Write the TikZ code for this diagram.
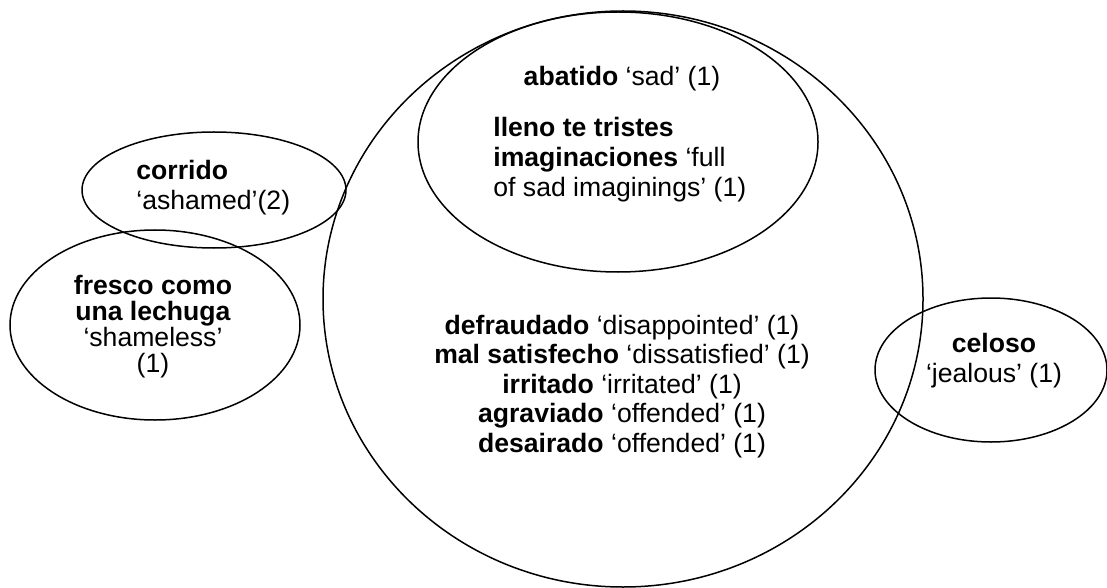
\documentclass[tikz,border=0pt]{standalone}
\usepackage{fontspec}
\setmainfont{Liberation Sans}

\begin{document}
\begin{tikzpicture}[
    x=0.5pt, y=-0.5pt,
    set/.style={draw=black, line width=0.75pt},
    gloss/.style={font={\fontsize{13.3}{15}\selectfont}, inner sep=0pt}
]

%% ================================================================
%% Rahmen (Bildgroesse in Pixeln, y nach unten)
%% ================================================================
\useasboundingbox (0,0) rectangle (1107,588);

%% ================================================================
%% MENGEN (Ellipsen)
%% ================================================================
\draw[set] (623,299) ellipse [x radius=300, y radius=288];   % grosser Kreis
\draw[set] (618,142) ellipse [x radius=200, y radius=130];   % abatido
\draw[set] (214,190) ellipse [x radius=132, y radius=58];    % corrido
\draw[set] (155,325) ellipse [x radius=145, y radius=95];    % fresco
\draw[set] (991,370) ellipse [x radius=116, y radius=72];    % celoso

%% ================================================================
%% OBERE ELLIPSE
%% ================================================================
\node[gloss] (abatido) at (622,79) {\textbf{abatido} ‘sad’ (1)};
\node[gloss, align=left, anchor=west] (lleno) at (493,160)
    {\textbf{lleno te tristes}\\
     \textbf{imaginaciones} ‘full\\
     of sad imaginings’ (1)};

%% ================================================================
%% LINKS: corrido, fresco como una lechuga
%% ================================================================
\node[gloss, align=left, anchor=west] (corrido) at (136,188)
    {\textbf{corrido}\\ ‘ashamed’(2)};
\node[gloss, align=center, font={\fontsize{13.3}{13}\selectfont}]
    (fresco) at (153,327)
    {\textbf{fresco como}\\ \textbf{una lechuga}\\ ‘shameless’\\ (1)};

%% ================================================================
%% GROSSER KREIS: Liste
%% ================================================================
\foreach \es/\en [count=\i] in {defraudado/disappointed,
        mal satisfecho/dissatisfied, irritado/irritated,
        agraviado/offended, desairado/offended} {
    \node[gloss] (item\i) at (622, 298+29.5*\i) {\textbf{\es} ‘\en’ (1)};
}

%% ================================================================
%% RECHTS: celoso
%% ================================================================
\node[gloss, align=center] (celoso) at (994,361)
    {\textbf{celoso}\\ ‘jealous’ (1)};

\end{tikzpicture}
\end{document}
